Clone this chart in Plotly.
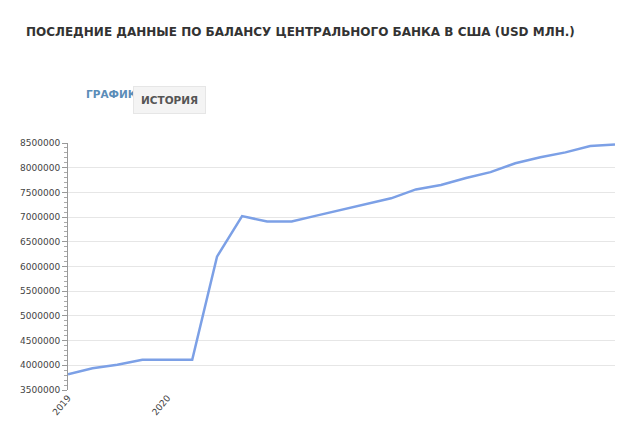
import pandas as pd
import plotly.graph_objects as go

dates = pd.date_range("2019-01-01", periods=23, freq="QS").strftime("%Y-%m-%d").tolist()
values = [3820000, 3940000, 4010000, 4110000, 4110000, 4110000, 6200000, 7020000,
          6910000, 6910000, 7030000, 7150000, 7260000, 7380000, 7560000, 7650000,
          7790000, 7910000, 8090000, 8210000, 8310000, 8440000, 8470000]
y_ticks = list(range(3500000, 8500001, 500000))

fig = go.Figure()
fig.add_trace(go.Scatter(x=dates, y=values, mode="lines",
                         line=dict(color="#7ca0e6", width=2.5)))

fig.update_layout(
    width=640, height=437, paper_bgcolor="white", plot_bgcolor="white",
    margin=dict(l=60, r=33, t=135, b=55, autoexpand=False), showlegend=False,
    font=dict(family="DejaVu Sans", size=9, color="#444"),
    title=dict(text="<b>ПОСЛЕДНИЕ ДАННЫЕ ПО БАЛАНСУ ЦЕНТРАЛЬНОГО БАНКА В США (USD МЛН.)</b>",
               x=0.028, xanchor="left", y=0.955, font=dict(size=12, color="#333")),
)
fig.add_annotation(text="<b>ГРАФИК</b>", x=0.03, y=1.23, xref="paper", yref="paper",
                   showarrow=False, font=dict(size=10.5, color="#5b8db8"))
fig.add_annotation(text="<b>ИСТОРИЯ</b>", x=0.118, y=1.23, xref="paper", yref="paper",
                   showarrow=False, font=dict(size=10.5, color="#555"),
                   bgcolor="#f4f4f4", bordercolor="#e6e6e6", borderpad=7)
fig.update_xaxes(range=["2019-01-01", "2024-07-01"], tickvals=["2019-01-01", "2020-01-01"],
                 ticktext=["2019", "2020"], tickangle=-50, showgrid=False,
                 showline=False, zeroline=False)
fig.update_yaxes(range=[3500000, 8500000], tickvals=y_ticks, tickformat="d",
                 gridcolor="#e6e6e6", showline=True, linecolor="#999", ticks="outside",
                 ticklen=5, tickcolor="#999",
                 minor=dict(ticks="outside", ticklen=3, dtick=100000, tickcolor="#aaa"))
fig.write_html("out.html")
